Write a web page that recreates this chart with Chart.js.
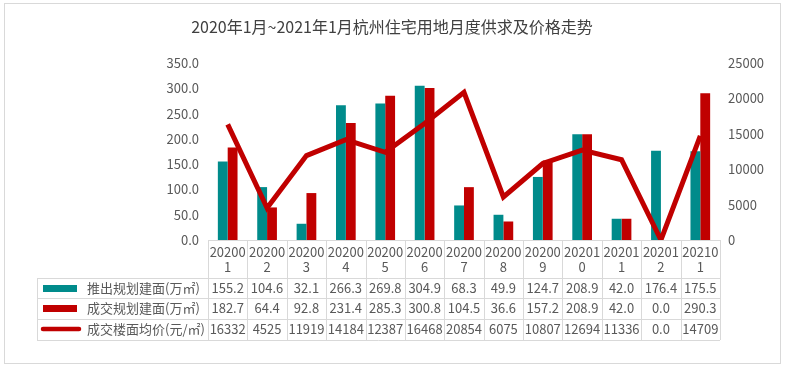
<!DOCTYPE html>
<html>
<head>
<meta charset="utf-8">
<script src="https://cdn.jsdelivr.net/npm/chart.js@4"></script>
<style>
  html, body { margin: 0; padding: 0; background: #fff; }
  #wrap { width: 785px; height: 367px; }
</style>
</head>
<body>
<div id="wrap"><canvas id="landChart" width="785" height="367"></canvas></div>
<script>
// chart data
const months = ['202001', '202002', '202003', '202004', '202005', '202006', '202007',
                '202008', '202009', '202010', '202011', '202012', '202101'];
const supplyArea = [155.2, 104.6, 32.1, 266.3, 269.8, 304.9, 68.3, 49.9, 124.7, 208.9, 42.0, 176.4, 175.5];
const dealArea = [182.7, 64.4, 92.8, 231.4, 285.3, 300.8, 104.5, 36.6, 157.2, 208.9, 42.0, 0.0, 290.3];
const avgPrice = [16332, 4525, 11919, 14184, 12387, 16468, 20854, 6075, 10807, 12694, 11336, 0, 14709];
const seriesNames = ['推出规划建面(万㎡)', '成交规划建面(万㎡)', '成交楼面均价(元/㎡)'];
const titleText = '2020年1月~2021年1月杭州住宅用地月度供求及价格走势';

const TEAL = '#008b8b';
const RED = '#c00000';
const GRID = '#d9d9d9';
const TEXT = '#595959';
const FONT = '"Noto Sans CJK SC", "Noto Sans", sans-serif';

/**
 * Frame, title and the data table under the plot
 */
const tablePlugin = {
    id: 'dataTable',
    beforeDraw(chart) {
        const ctx = chart.ctx;
        ctx.save();
        ctx.fillStyle = '#fff';
        ctx.fillRect(0, 0, chart.width, chart.height);
        ctx.strokeStyle = GRID;
        ctx.lineWidth = 1;
        ctx.strokeRect(4.5, 3.5, 776, 360);

        ctx.fillStyle = '#404040';
        ctx.font = '16px ' + FONT;
        ctx.textAlign = 'center';
        ctx.textBaseline = 'middle';
        ctx.fillText(titleText, 392, 27);
        ctx.restore();
    },
    afterDraw(chart) {
        const ctx = chart.ctx;
        const area = chart.chartArea;
        const n = months.length;
        const w = (area.right - area.left) / n;
        const legendLeft = 37;
        const rowLines = [278, 298, 319, 340];

        ctx.save();
        ctx.strokeStyle = GRID;
        ctx.lineWidth = 1;
        ctx.beginPath();
        // axis line / header top
        ctx.moveTo(area.left, Math.round(area.bottom) + 0.5);
        ctx.lineTo(area.right, Math.round(area.bottom) + 0.5);
        rowLines.forEach(y => {
            ctx.moveTo(legendLeft, y + 0.5);
            ctx.lineTo(area.right, y + 0.5);
        });
        for (let i = 0; i <= n; i++) {
            const x = Math.round(area.left + i * w) + 0.5;
            ctx.moveTo(x, Math.round(area.bottom));
            ctx.lineTo(x, rowLines[3]);
        }
        ctx.moveTo(legendLeft + 0.5, rowLines[0]);
        ctx.lineTo(legendLeft + 0.5, rowLines[3]);
        ctx.stroke();

        ctx.fillStyle = TEXT;
        ctx.font = '13px ' + FONT;
        ctx.textAlign = 'center';
        ctx.textBaseline = 'middle';
        const xScale = chart.scales.x;
        months.forEach((m, i) => {
            const cx = xScale.getPixelForValue(i);
            ctx.fillText(m.slice(0, 5), cx, 252);
            ctx.fillText(m.slice(5), cx, 267);
            ctx.fillText(supplyArea[i].toFixed(1), cx, 288);
            ctx.fillText(dealArea[i].toFixed(1), cx, 308);
            ctx.fillText(avgPrice[i] === 0 ? '0.0' : String(avgPrice[i]), cx, 329);
        });

        // legend keys
        ctx.textAlign = 'left';
        const rowMid = [288, 308, 329];
        seriesNames.forEach((name, i) => {
            ctx.fillStyle = TEXT;
            ctx.fillText(name, 87, rowMid[i]);
        });
        ctx.fillStyle = TEAL;
        ctx.fillRect(43, 285, 34, 7);
        ctx.fillStyle = RED;
        ctx.fillRect(43, 305, 34, 7);
        ctx.strokeStyle = RED;
        ctx.lineWidth = 4.5;
        ctx.lineCap = 'round';
        ctx.beginPath();
        ctx.moveTo(43, 329);
        ctx.lineTo(79, 329);
        ctx.stroke();
        ctx.restore();
    }
};

const tickFont = { family: FONT, size: 13 };

new Chart(document.getElementById('landChart'), {
    type: 'bar',
    data: {
        labels: months,
        datasets: [{
            type: 'line',
            label: seriesNames[2],
            data: avgPrice,
            yAxisID: 'y1',
            borderColor: RED,
            backgroundColor: RED,
            borderWidth: 5,
            pointRadius: 0,
            tension: 0,
            order: 0
        }, {
            label: seriesNames[0],
            data: supplyArea,
            yAxisID: 'y',
            backgroundColor: TEAL,
            categoryPercentage: 0.5,
            barPercentage: 1.0,
            order: 1
        }, {
            label: seriesNames[1],
            data: dealArea,
            yAxisID: 'y',
            backgroundColor: RED,
            categoryPercentage: 0.5,
            barPercentage: 1.0,
            order: 1
        }]
    },
    options: {
        responsive: false,
        animation: false,
        layout: {
            padding: { top: 63, bottom: 127, left: 0, right: 0 }
        },
        plugins: {
            legend: { display: false },
            title: { display: false },
            tooltip: { enabled: false }
        },
        scales: {
            x: {
                display: false
            },
            y: {
                position: 'left',
                min: 0,
                max: 350,
                ticks: {
                    stepSize: 50,
                    color: TEXT,
                    font: tickFont,
                    padding: 9,
                    callback: v => Number(v).toFixed(1)
                },
                grid: { display: false, drawTicks: false },
                border: { display: false },
                afterFit(scale) { scale.width = 208; }
            },
            y1: {
                position: 'right',
                min: 0,
                max: 25000,
                ticks: {
                    stepSize: 5000,
                    color: TEXT,
                    font: tickFont,
                    padding: 8,
                    callback: v => String(v)
                },
                grid: { display: false, drawTicks: false },
                border: { display: false },
                afterFit(scale) { scale.width = 65; }
            }
        }
    },
    plugins: [tablePlugin]
});
</script>
</body>
</html>
